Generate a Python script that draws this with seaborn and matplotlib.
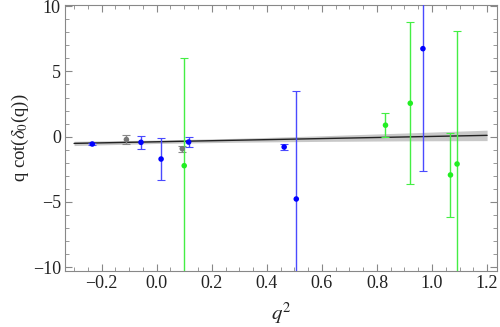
import matplotlib
matplotlib.use("Agg")
import matplotlib.pyplot as plt
import seaborn as sns
import pandas as pd
from matplotlib.ticker import MultipleLocator

# ---- data ----
blue_x = [-0.234, -0.057, 0.016, 0.116, 0.463, 0.507, 0.967]
blue_y = [-0.56, -0.43, -1.71, -0.41, -0.79, -4.77, 6.74]
blue_err = [0.10, 0.50, 1.60, 0.38, 0.26, 8.30, 9.35]

gray_x = [-0.110, 0.093]
gray_y = [-0.22, -0.92]
gray_err = [0.37, 0.24]

green_x = [0.100, 0.831, 0.921, 1.067, 1.091]
green_y = [-2.22, 0.88, 2.56, -2.93, -2.09]
green_err = [8.22, 0.90, 6.20, 3.25, 10.17]

fit_x = [-0.30, 0.00, 0.30, 0.60, 0.90, 1.20]
fit_y = [-0.513, -0.390, -0.267, -0.144, -0.021, 0.102]
fit_lo = [-0.68, -0.52, -0.42, -0.36, -0.32, -0.30]
fit_hi = [-0.35, -0.26, -0.12, 0.07, 0.28, 0.50]

x_ticks = [-0.2, 0.0, 0.2, 0.4, 0.6, 0.8, 1.0, 1.2]
y_ticks = [-10, -5, 0, 5, 10]

sns.set_style("ticks")
plt.rcParams["font.family"] = ["Liberation Serif", "DejaVu Serif"]
plt.rcParams["mathtext.fontset"] = "stix"

fig = plt.figure(figsize=(5.0, 3.27), dpi=100)
ax = fig.add_axes([0.13, 0.171, 0.864, 0.814])

fit_df = pd.DataFrame({"x": fit_x, "y": fit_y})
ax.fill_between(fit_x, fit_lo, fit_hi, color="#c8c8c8", lw=0, zorder=1)
sns.lineplot(data=fit_df, x="x", y="y", color="#222222", lw=1.0, ax=ax, zorder=2)

series = [
    (blue_x, blue_y, blue_err, "#0000ff", "#4a4aff"),
    (gray_x, gray_y, gray_err, "#777777", "#888888"),
    (green_x, green_y, green_err, "#22ee22", "#44ee44"),
]
for xs, ys, es, c, ec in series:
    ax.errorbar(xs, ys, yerr=es, fmt="none", ecolor=ec, elinewidth=1.0,
                capsize=3, capthick=0.8, zorder=3)
    df = pd.DataFrame({"x": xs, "y": ys})
    sns.scatterplot(data=df, x="x", y="y", color=c, s=16, edgecolor="none",
                    ax=ax, zorder=4, legend=False)

ax.set_xlim(-0.333, 1.236)
ax.set_ylim(-10.29, 10.09)
ax.set_xticks(x_ticks)
ax.set_yticks(y_ticks)
ax.set_xticklabels(["\u22120.2", "0.0", "0.2", "0.4", "0.6", "0.8", "1.0", "1.2"])
ax.set_yticklabels(["\u221210", "\u22125", "0", "5", "10"])
ax.xaxis.set_minor_locator(MultipleLocator(0.05))
ax.yaxis.set_minor_locator(MultipleLocator(1))
ax.tick_params(which="both", direction="in", top=True, right=True,
               color="#888888", labelsize=13, labelcolor="#222222")
ax.tick_params(which="major", length=5, width=0.8, pad=3)
ax.tick_params(which="minor", length=3, width=0.6)
for s in ax.spines.values():
    s.set_color("#888888")
    s.set_linewidth(0.8)

ax.set_xlabel(r"$q^2$", fontsize=15, color="#222222", labelpad=6)
ax.set_ylabel(r"q cot($\delta_0$(q))", fontsize=13.5, color="#222222", labelpad=1)

fig.savefig("out.png", dpi=100)
